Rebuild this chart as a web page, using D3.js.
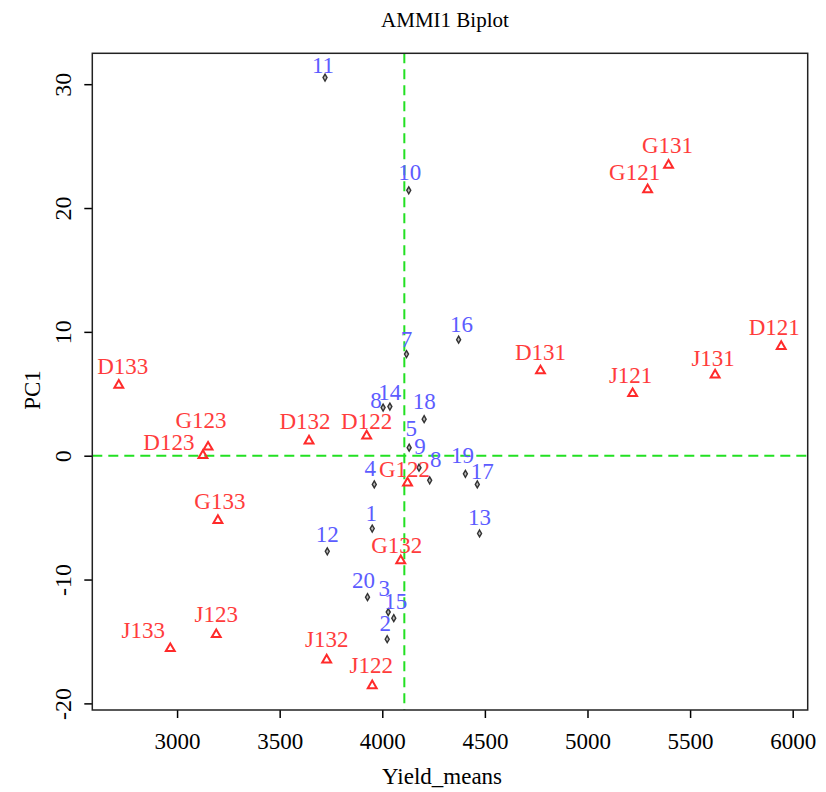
<!DOCTYPE html>
<html>
<head>
<meta charset="utf-8">
<script src="https://cdn.jsdelivr.net/npm/d3@7"></script>
<style>
  body { margin: 0; background: #fff; }
  svg text { font-family: "Liberation Serif", "Times New Roman", serif; }
  .tick text { font-size: 23px; fill: #000; }
  .geno { fill: #5c5cff; font-size: 23px; text-anchor: middle; }
  .env { fill: #ff3c3c; font-size: 23px; text-anchor: middle; }
</style>
</head>
<body>
<svg id="chart" width="826" height="792"></svg>
<script>
// genotypes (labels as printed on the plot)
var genoLabels = ["1","2","3","4","5","8","7","8","9","10","11","12","13","14","15","16","17","18","19","20"];
var genoYield  = [3951,4024,4029,3961,4131,4004,4118,4231,4179,4129,3721,3732,4474,4037,4056,4372,4463,4204,4405,3928];
var genoPC1    = [-5.88,-14.82,-12.63,-2.32,0.65,3.89,8.21,-1.99,-0.97,21.43,30.53,-7.72,-6.28,3.97,-13.12,9.37,-2.32,2.95,-1.46,-11.42];

// environments
var envLabels = ["G131","G121","D121","J131","J121","D131","D133","G123","D123","D132","G133","D122","G122","G132","J132","J122","J133","J123"];
var envYield  = [5395,5293,5944,5622,5220,4771,2716,3151,3126,3643,3199,3924,4123,4090,3729,3951,2967,3191];
var envPC1    = [23.46,21.49,8.83,6.53,5.02,6.86,5.70,0.70,0.03,1.19,-5.23,1.60,-2.19,-8.47,-16.49,-18.57,-15.57,-14.44];

var xTicks = [3000,3500,4000,4500,5000,5500,6000];
var yTicks = [-20,-10,0,10,20,30];

// label nudges in pixels (layout only), default is centred above the point
var genoNudge = [[-1,-16],[-2,-16],[-4,-24],[-4,-16],[2,-20],[-7,-8],[0,-15],[6,-21],[1,-22],[1,-18],
                 [-2,-13],[0,-17],[0,-16],[0,-15],[2,-17],[3,-16],[5,-13],[0,-18],[-3,-19],[-4,-17]];
var envNudge  = [[-1,-20],[-13,-18],[-7,-19],[-2,-17],[-2,-19],[0,-19],[4,-19],[-7,-27],[-34,-13],[-4,-20],
                 [2,-19],[0,-15],[-3,-14],[-4,-16],[0,-21],[-1,-21],[-27,-19],[0,-21]];

var box = {left: 92.3, right: 807.7, top: 53.3, bottom: 710};
var svg = d3.select("#chart");

var geno = genoLabels.map(function(d,i){ return {lab:d, x:genoYield[i], y:genoPC1[i], n:genoNudge[i]}; });
var env  = envLabels.map(function(d,i){ return {lab:d, x:envYield[i], y:envPC1[i], n:envNudge[i]}; });
var all = geno.concat(env);

// R style 4% axis extension
function pad(ext){ var r = ext[1]-ext[0]; return [ext[0]-0.04*r, ext[1]+0.04*r]; }
var x = d3.scaleLinear().domain(pad(d3.extent(all, function(d){return d.x;}))).range([box.left, box.right]);
var y = d3.scaleLinear().domain(pad(d3.extent(all, function(d){return d.y;}))).range([box.bottom, box.top]);

var meanYield = d3.mean(genoYield);

// title
svg.append("text").attr("x", 445).attr("y", 27).attr("text-anchor","middle")
   .style("font-size","21px").text("AMMI1 Biplot");

// reference lines
svg.append("line").attr("x1", box.left).attr("x2", box.right).attr("y1", y(0)).attr("y2", y(0))
   .attr("stroke","#22e022").attr("stroke-width",2).attr("stroke-dasharray","10,6");
svg.append("line").attr("x1", x(meanYield)).attr("x2", x(meanYield)).attr("y1", box.top).attr("y2", box.bottom)
   .attr("stroke","#22e022").attr("stroke-width",2).attr("stroke-dasharray","10,6");

// axes (plain hyphen for negatives, like R)
var fmt = function(d){ return String(d); };
var xAxis = d3.axisBottom(x).tickValues(xTicks).tickSize(8).tickPadding(15).tickFormat(fmt);
svg.append("g").attr("transform","translate(0,"+box.bottom+")").call(xAxis)
   .call(function(g){ g.select(".domain").remove(); g.selectAll(".tick line").attr("stroke-width",1.5); });

var yAxis = d3.axisLeft(y).tickValues(yTicks).tickSize(8).tickFormat(fmt);
svg.append("g").attr("transform","translate("+box.left+",0)").call(yAxis)
   .call(function(g){
     g.select(".domain").remove();
     g.selectAll(".tick line").attr("stroke-width",1.5);
     g.selectAll(".tick text").attr("x",0).attr("dy",0).attr("text-anchor","middle")
      .style("font-size","24px")
      .attr("transform","translate(-21,0) rotate(-90)");
   });

// plot frame
svg.append("rect").attr("x", box.left).attr("y", box.top)
   .attr("width", box.right-box.left).attr("height", box.bottom-box.top)
   .attr("fill","none").attr("stroke","#222").attr("stroke-width",1.5);

// axis titles
svg.append("text").attr("x", 442).attr("y", 784).attr("text-anchor","middle")
   .style("font-size","23px").text("Yield_means");
svg.append("text").attr("transform","translate(40,390) rotate(-90)").attr("text-anchor","middle")
   .style("font-size","23px").text("PC1");

// genotype points
svg.append("g").selectAll("path").data(geno).enter().append("path")
   .attr("d", d3.symbol(d3.symbolDiamond).size(14))
   .attr("transform", function(d){ return "translate("+x(d.x)+","+y(d.y)+")"; })
   .attr("fill","#bbb").attr("stroke","#333").attr("stroke-width",1.4);

// environment points
svg.append("g").selectAll("path").data(env).enter().append("path")
   .attr("d", d3.symbol(d3.symbolTriangle).size(34))
   .attr("transform", function(d){ return "translate("+x(d.x)+","+y(d.y)+")"; })
   .attr("fill","none").attr("stroke","#ff2a2a").attr("stroke-width",2);

// labels
svg.append("g").selectAll("text").data(geno).enter().append("text")
   .attr("class","geno")
   .attr("x", function(d){ return x(d.x)+d.n[0]; })
   .attr("y", function(d){ return y(d.y)+d.n[1]+8; })
   .text(function(d){ return d.lab; });

svg.append("g").selectAll("text").data(env).enter().append("text")
   .attr("class","env")
   .attr("x", function(d){ return x(d.x)+d.n[0]; })
   .attr("y", function(d){ return y(d.y)+d.n[1]+8; })
   .text(function(d){ return d.lab; });
</script>
</body>
</html>
